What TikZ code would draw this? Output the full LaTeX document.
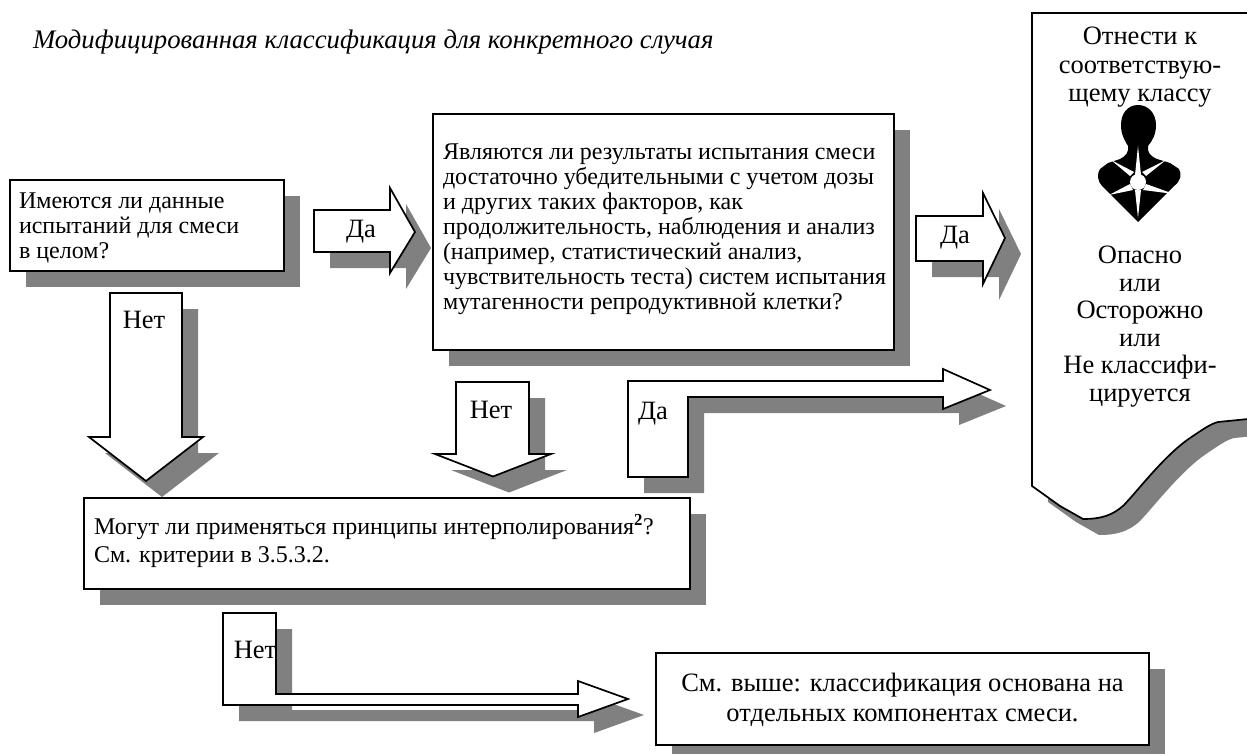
\documentclass[tikz,border=0pt]{standalone}
\usepackage{fontspec}
\setmainfont{Liberation Serif}
\usetikzlibrary{shadows}
\definecolor{shd}{HTML}{808080}
\tikzset{
  x=1pt,y=-1pt,
  shd/.style={drop shadow={shadow xshift=16pt,shadow yshift=-16pt,fill=shd,opacity=1}},
  blockbox/.style={draw=black,line width=1.7pt,fill=white,shd,anchor=north west,inner sep=0pt,outer sep=0pt},
  blockarrow/.style={draw=black,line width=1.7pt,fill=white,line join=miter,shd},
  txt/.style={inner sep=0pt,outer sep=0pt,align=left,anchor=north west,font=\fontsize{24}{25}\selectfont},
  lbl/.style={inner sep=0pt,outer sep=0pt,font=\fontsize{26.5}{28}\selectfont},
  cls/.style={inner sep=0pt,outer sep=0pt,align=center,anchor=north,font=\fontsize{26.5}{28}\selectfont},
}
\begin{document}
\begin{tikzpicture}
\useasboundingbox (0,0) rectangle (1247,754);
\fill[white] (0,0) rectangle (1247,754);
\node[txt,font=\fontsize{26.75}{28}\selectfont\itshape] (title) at (33,30) {Модифицированная классификация для конкретного случая};

% class box
\draw[blockarrow] (1248,13) -- (1032,13) -- (1032,486) -- (1060,506) -- (1083,519)
  .. controls (1100,519) and (1112,516) .. (1124,505)
  .. controls (1140,488) and (1165,455) .. (1190,438)
  .. controls (1202,430) and (1210,424) .. (1218,422) -- (1248,419);

% box 1
\node[blockbox,minimum width=274pt,minimum height=91pt] (b1) at (10,180) {};
% box 2
\node[blockbox,minimum width=461pt,minimum height=236pt] (b2) at (433,114) {};
% arrows
\draw[blockarrow] (314,210) -- (390,210) -- (390,188) -- (415,232) -- (390,273) -- (390,252) -- (314,252) -- cycle;
\draw[blockarrow] (110,293) -- (182,293) -- (182,437) -- (203,437) -- (146,481) -- (89,437) -- (110,437) -- cycle;
\draw[blockarrow] (916,216) -- (983,216) -- (983,193) -- (1005,238) -- (983,284) -- (983,261) -- (916,261) -- cycle;
\draw[blockarrow] (456,382) -- (529,382) -- (529,454) -- (551,454) -- (493,476.5) -- (435,454) -- (456,454) -- cycle;
\draw[blockarrow] (628,381) -- (943,381) -- (943,369) -- (990,390) -- (943,409) -- (943,397) -- (688,397) -- (688,477) -- (628,477) -- cycle;
% box 3
\node[blockbox,minimum width=606pt,minimum height=91pt] (b3) at (84,498) {};
\draw[blockarrow] (223,613) -- (276,613) -- (276,694) -- (578,694) -- (578,681) -- (628,699) -- (578,717) -- (578,705) -- (223,705) -- cycle;
% box 4
\node[blockbox,minimum width=493pt,minimum height=92pt] (b4) at (656,653) {};

% texts
\node[txt] (t1) at (19,193) {Имеются ли данные\\испытаний для смеси\\в целом?};
\node[txt] (t2) at (443,144) {Являются ли результаты испытания смеси\\достаточно убедительными с учетом дозы\\и других таких факторов, как\\продолжительность, наблюдения и анализ\\(например, статистический анализ,\\чувствительность теста) систем испытания\\мутагенности репродуктивной клетки?};
\node[txt,font=\fontsize{24}{28}\selectfont] (t3) at (94,514) {Могут ли применяться принципы интерполирования\textsuperscript{\textbf{2}}?\\См. критерии в 3.5.3.2.};
\node[txt,align=center,anchor=north,font=\fontsize{26.5}{30}\selectfont] (t4) at (902.5,673) {См. выше: классификация основана на\\отдельных компонентах смеси.};
\node[lbl] (da1) at (361,232) {Да};
\node[lbl] (net1) at (144,320) {Нет};
\node[lbl] (da2) at (955,238) {Да};
\node[lbl] (net2) at (491,410) {Нет};
\node[lbl] (da3) at (653,414) {Да};
\node[lbl] (net3) at (255,650) {Нет};
\node[cls,font=\fontsize{26.5}{28.5}\selectfont] (c1) at (1140,27) {Отнести к\\соответствую-\\щему классу};
\node[cls,font=\fontsize{26.5}{27.6}\selectfont] (c2) at (1140,246) {Опасно\\или\\Осторожно\\или\\Не классифи-\\цируется};

% health hazard pictogram
\fill[black] (1138,105) .. controls (1128,105) and (1121,113) .. (1121,125)
  .. controls (1121,135) and (1125,141) .. (1128,146)
  .. controls (1129,152) and (1126,156) .. (1120,159) -- (1108,163) -- (1100,169)
  .. controls (1097,173) and (1097,181) .. (1102,186) -- (1138,222) -- (1174,186)
  .. controls (1181,181) and (1182,174) .. (1179,169) -- (1170,163) -- (1157,159)
  .. controls (1150,156) and (1147,152) .. (1148,146)
  .. controls (1152,141) and (1156,135) .. (1156,125)
  .. controls (1156,113) and (1148,105) .. (1138,105) -- cycle;
\fill[white] (1138,146) -- (1141,175) -- (1135,175) -- cycle;
\fill[white] (1138,218) -- (1141,190) -- (1135,190) -- cycle;
\fill[white] (1111,160) -- (1130,176) -- (1134,172) -- cycle;
\fill[white] (1166,160) -- (1146,176) -- (1142,172) -- cycle;
\fill[white] (1109,195) -- (1130,184) -- (1133,190) -- cycle;
\fill[white] (1174,194) -- (1146,184) -- (1143,190) -- cycle;
\fill[white] (1138,182) circle (8pt);
\end{tikzpicture}
\end{document}
